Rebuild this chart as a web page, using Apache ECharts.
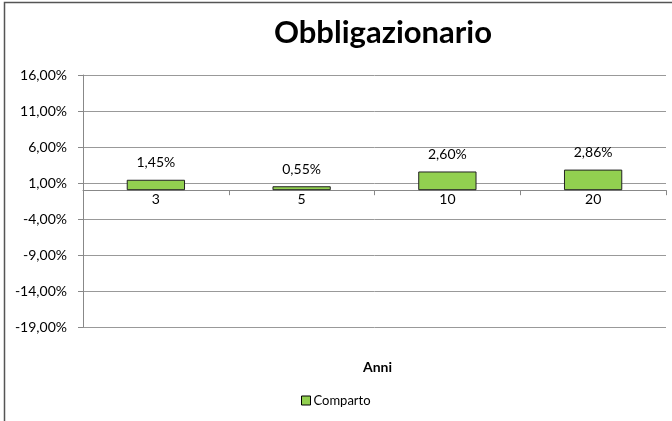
<!DOCTYPE html>
<html><head><meta charset="utf-8">
<script src="https://cdn.jsdelivr.net/npm/echarts@6/dist/echarts.min.js"></script>
<style>html,body{margin:0;padding:0;background:#fff}#c{width:672px;height:421px}</style>
</head><body><div id="c"></div>
<script>
const categories = ['3', '5', '10', '20'];
const seriesName = 'Comparto';
const values = [1.45, 0.55, 2.60, 2.86];
const yMin = -19, yMax = 16, yStep = 5;
const fmt = v => Number(v).toFixed(2).replace('.', ',') + '%';
const FONT = 'Lato, "Open Sans", sans-serif';
const gridTop = 75, gridBottom = 94, H = 421;
const plotH = H - gridTop - gridBottom;
const zeroOffset = -plotH * (0 - yMin) / (yMax - yMin);
const chart = echarts.init(document.getElementById('c'));
chart.setOption({
  animation: false,
  backgroundColor: '#fff',
  title: [
    {text: 'Obbligazionario', left: 378, textAlign: 'center', top: 12, textStyle: {fontFamily: FONT, fontSize: 31, fontWeight: 'bold', color: '#000'}},
    {text: 'Anni', left: 358, top: 355, textStyle: {fontFamily: FONT, fontSize: 14, fontWeight: 'bold', color: '#000'}}
  ],
  graphic: [{type: 'rect', shape: {x: 4.5, y: 2.5, width: 700, height: 500}, style: {fill: 'none', stroke: '#555', lineWidth: 1.5}, silent: true}],
  legend: {left: 296, top: 389, icon: 'rect', itemWidth: 9, itemHeight: 9, itemGap: 4,
    textStyle: {fontFamily: FONT, fontSize: 13, color: '#000', padding: [0,0,0,-2]},
    itemStyle: {borderColor: '#000', borderWidth: 1},
    data: [seriesName]},
  grid: {left: 83, right: 6, top: gridTop, bottom: gridBottom, containLabel: false},
  xAxis: {type: 'category', data: categories, position: 'bottom', offset: zeroOffset,
    axisLine: {onZero: false, lineStyle: {color: '#888', width: 1}},
    axisTick: {show: true, length: 5, lineStyle: {color: '#888'}},
    axisLabel: {fontFamily: FONT, fontSize: 14, color: '#000', margin: 2}},
  yAxis: {type: 'value', min: yMin, max: yMax, interval: yStep,
    axisLine: {show: true, lineStyle: {color: '#888', width: 1}},
    axisTick: {show: true, length: 5, lineStyle: {color: '#888'}},
    axisLabel: {formatter: fmt, fontFamily: FONT, fontSize: 14, color: '#000', margin: 16},
    splitLine: {show: true, lineStyle: {color: '#999', width: 1}}},
  series: [{name: seriesName, type: 'bar', data: values, barWidth: '40%',
    itemStyle: {color: '#92D050', borderColor: '#222', borderWidth: 1},
    label: {show: true, position: 'top', distance: 10, formatter: p => fmt(p.value),
      fontFamily: FONT, fontSize: 14, color: '#000'}}]
});
</script></body></html>
